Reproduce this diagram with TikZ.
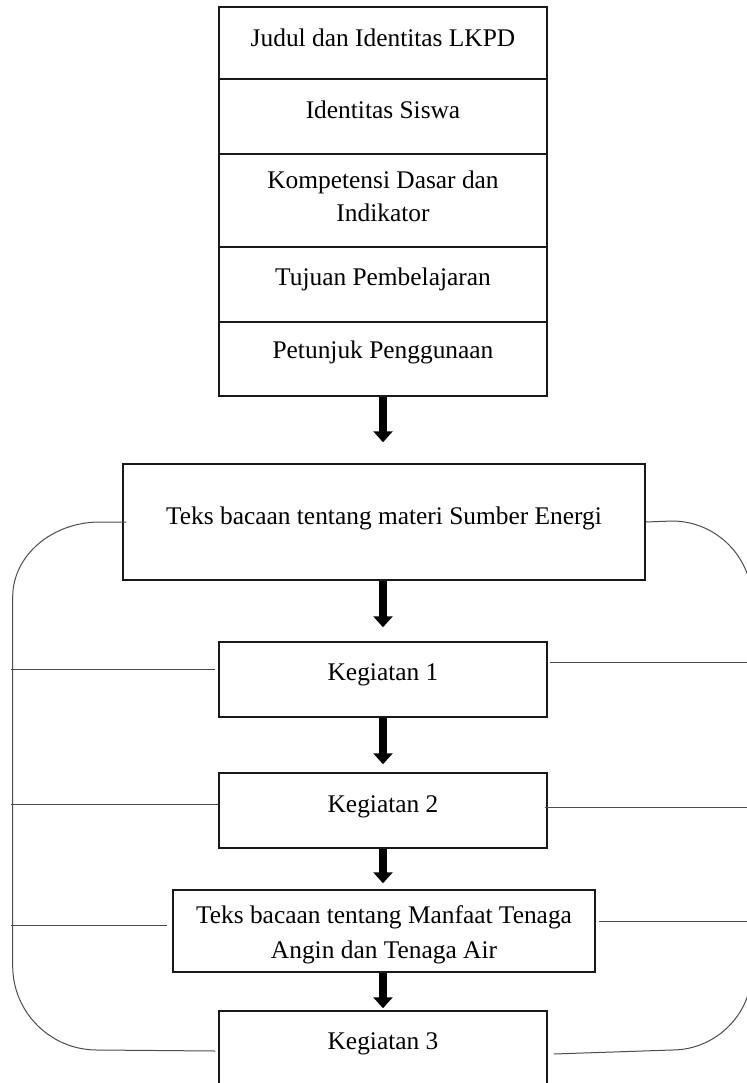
\documentclass[tikz,border=0pt]{standalone}
\usepackage{fontspec}
\setmainfont{Liberation Serif}
\usetikzlibrary{arrows.meta}
\tikzset{
  box/.style={draw=black!90, line width=0.75pt, rectangle, inner sep=0pt},
  txt/.style={anchor=base, inner sep=0pt, align=center, font=\fontsize{12.7}{16.2}\selectfont},
  fat/.style={line width=4pt, -{Triangle[width=9.5pt,length=5.5pt]}},
  side/.style={draw=black!70, line width=0.5pt}
}
\begin{document}
\begin{tikzpicture}[x=0.5pt, y=-0.5pt]
\useasboundingbox (0,0) rectangle (747,1083);
\clip (0,0) rectangle (747,1083);
% boxes
\node[box, minimum width=164pt, minimum height=36pt]   (b1) at (383,43) {};
\node[box, minimum width=164pt, minimum height=37.5pt] (b2) at (383,116.5) {};
\node[box, minimum width=164pt, minimum height=46.5pt] (b3) at (383,200.5) {};
\node[box, minimum width=164pt, minimum height=37.5pt] (b4) at (383,284.5) {};
\node[box, minimum width=164pt, minimum height=37pt]   (b5) at (383,359) {};
\node[box, minimum width=261pt, minimum height=58pt]   (se) at (384,522) {};
\node[box, minimum width=164pt, minimum height=37.5pt] (k1) at (383,679.5) {};
\node[box, minimum width=164pt, minimum height=37.5pt] (k2) at (383,810.5) {};
\node[box, minimum width=211pt, minimum height=41pt]   (mf) at (384,931) {};
\node[box, minimum width=164pt, minimum height=37.5pt] (k3) at (383,1048.5) {};
% texts (anchor base = baseline of last line)
\node[txt] (t1) at (383,46.5) {Judul dan Identitas LKPD};
\node[txt] (t2) at (383,118) {Identitas Siswa};
\node[txt] (t3) at (383,221) {Kompetensi Dasar dan\\Indikator};
\node[txt] (t4) at (383,285) {Tujuan Pembelajaran};
\node[txt] (t5) at (383,358.5) {Petunjuk Penggunaan};
\node[txt] (ts) at (384,524) {Teks bacaan tentang materi Sumber Energi};
\node[txt] (tk1) at (383,680) {Kegiatan 1};
\node[txt] (tk2) at (383,812) {Kegiatan 2};
\node[txt, font=\fontsize{12.7}{17.5}\selectfont] (tm) at (384,958.5) {Teks bacaan tentang Manfaat Tenaga\\Angin dan Tenaga Air};
\node[txt] (tk3) at (383,1049) {Kegiatan 3};
% thick arrows
\draw[fat, shorten >=10.5pt] (b5.south) -- (b5.south |- se.north);
\draw[fat, shorten >=7pt] (se.south -| b5.south) -- (k1.north);
\draw[fat, shorten >=4pt] (k1.south) -- (k2.north);
\draw[fat, shorten >=3pt] (k2.south) -- (k2.south |- mf.north);
\draw[fat, shorten >=1pt] (k2.south |- mf.south) -- (k3.north);
% side coordinates
\coordinate (L1) at (11,669);
\coordinate (L2) at (11,804);
\coordinate (L3) at (11,925);
\coordinate (R1) at (752,662);
\coordinate (R2) at (752,807);
\coordinate (R3) at (752,921);
% left loop
\draw[side] ([xshift=2pt]se.west) -- (100,522)
  .. controls (51.8,522) and (12.7,555.6) .. (12.7,597)
  -- (12.7,966)
  .. controls (12.7,1012.4) and (50.5,1050) .. (97,1050)
  -- ([xshift=-1.5pt,yshift=-1.25pt]k3.west);
% right loop
\draw[side] (se.east) -- (672,521)
  .. controls (716.2,521) and (752,557) .. (752,601)
  -- (752,970)
  .. controls (752,1014) and (716,1050) .. (672,1050)
  -- ([xshift=3pt,yshift=-2.75pt]k3.east);
% branches
\draw[side] (L1) -- ([xshift=-1.5pt,yshift=5.25pt]k1.west);
\draw[side] (L2) -- ([yshift=3.25pt]k2.west);
\draw[side] (L3) -- ([xshift=-2.5pt,yshift=3pt]mf.west);
\draw[side] ([xshift=1pt,yshift=8.75pt]k1.east) -- (R1);
\draw[side] ([xshift=-1.5pt,yshift=1.75pt]k2.east) -- (R2);
\draw[side] ([xshift=1.5pt,yshift=5pt]mf.east) -- (R3);
\end{tikzpicture}
\end{document}
